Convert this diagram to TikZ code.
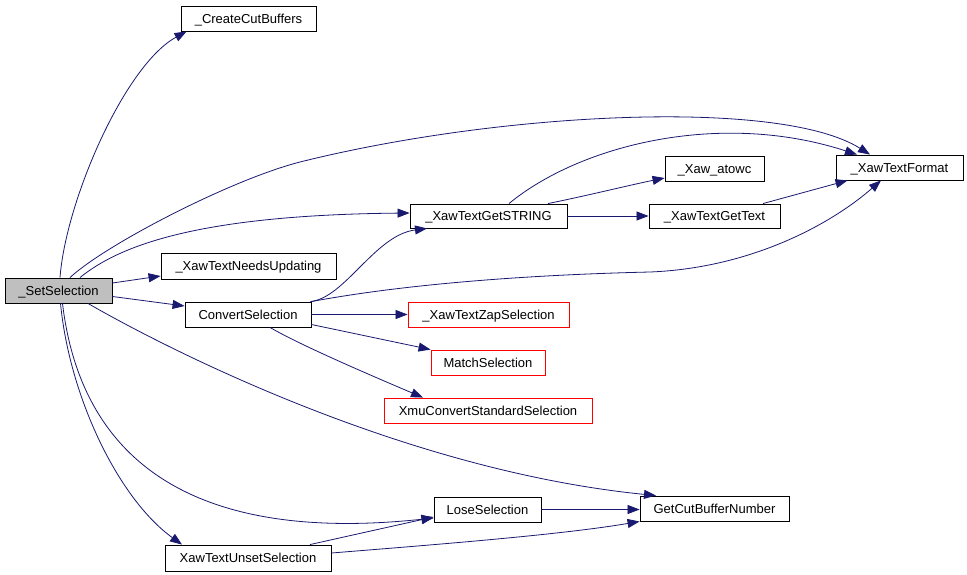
\documentclass[tikz,border=0pt]{standalone}
\usepackage{fontspec}
\setmainfont{Liberation Sans}
\usetikzlibrary{arrows.meta}
\definecolor{edgeblue}{HTML}{191970}
\definecolor{hlgray}{HTML}{BFBFBF}
\begin{document}
\begin{tikzpicture}[x=1pt,y=-1pt,
  fn/.style={draw=black,line width=0.9pt,inner sep=0pt,font=\fontsize{13}{15}\selectfont,align=center,text height=9.3pt,text depth=0pt},
  fnred/.style={fn,draw=red},
  call/.style={draw=edgeblue,line width=0.8pt,-{Triangle[length=12pt,width=9pt]}}]
\useasboundingbox[fill=white] (0,0) rectangle (967,574);
% nodes
\node[fn,fill=hlgray,minimum width=107pt,minimum height=25pt] (S) at (58.5,290.5) {\_SetSelection};
\node[fn,minimum width=135pt,minimum height=25pt] (C) at (248.5,18.5) {\_CreateCutBuffers};
\node[fn,minimum width=175pt,minimum height=26pt] (NU) at (248.5,266) {\_XawTextNeedsUpdating};
\node[fn,minimum width=126pt,minimum height=25pt] (CS) at (248,314.5) {ConvertSelection};
\node[fn,minimum width=157pt,minimum height=24pt] (G) at (488.5,216) {\_XawTextGetSTRING};
\node[fn,minimum width=99pt,minimum height=25pt] (A) at (714.5,168.5) {\_Xaw\_atowc};
\node[fn,minimum width=131pt,minimum height=24pt] (T) at (714.5,216) {\_XawTextGetText};
\node[fn,minimum width=127pt,minimum height=25pt] (F) at (899.5,167.5) {\_XawTextFormat};
\node[fnred,minimum width=161pt,minimum height=25pt] (Z) at (488.5,314.5) {\_XawTextZapSelection};
\node[fnred,minimum width=114pt,minimum height=25pt] (M) at (488,362.5) {MatchSelection};
\node[fnred,minimum width=208pt,minimum height=25pt] (X) at (488,410.5) {XmuConvertStandardSelection};
\node[fn,minimum width=107pt,minimum height=25pt] (L) at (487.5,509.5) {LoseSelection};
\node[fn,minimum width=149pt,minimum height=25pt] (GB) at (714.5,508.5) {GetCutBufferNumber};
\node[fn,minimum width=166pt,minimum height=26pt] (U) at (248,558) {XawTextUnsetSelection};
% edges from _SetSelection
\draw[call] ([xshift=1.5pt]S.north) .. controls (66,200) and (125,65) .. ([xshift=6pt]C.south west);
\draw[call] ([xshift=11.5pt]S.north) .. controls (105,245) and (230,180) .. (300,162)
   .. controls (500,112) and (780,98) .. ([xshift=-29.5pt]F.north);
\draw[call] ([xshift=21.5pt]S.north) .. controls (120,245) and (200,215) .. ([yshift=3pt]G.west);
\draw[call] ([yshift=7.5pt]S.east) -- ([yshift=-10pt]NU.west);
\draw[call] ([yshift=-6pt]S.east) -- ([yshift=8.5pt]CS.west);
\draw[call] ([xshift=29.5pt]S.south) .. controls (160,345) and (400,470) .. ([xshift=-58.5pt]GB.north);
\draw[call] ([xshift=4pt]S.south) .. controls (80,450) and (180,545) .. ([yshift=-8.5pt]L.west);
\draw[call] ([xshift=2pt]S.south) .. controls (70,400) and (120,500) .. ([xshift=-66pt]U.north);
% edges from ConvertSelection
\draw[call] ([xshift=-1pt]CS.north east) .. controls (345,298) and (375,235) .. ([xshift=-61.5pt]G.south);
\draw[call] (CS.north east) .. controls (400,285) and (520,275) .. (650,272)
   .. controls (750,268) and (830,225) .. ([xshift=-18.5pt]F.south);
\draw[call] (CS.east) -- (Z.west);
\draw[call] ([yshift=-10pt]CS.east) -- (M.north west);
\draw[call] ([xshift=22pt]CS.south) .. controls (300,345) and (370,375) .. ([xshift=-65pt]X.north);
% edges from _XawTextGetSTRING
\draw[call] ([xshift=20.5pt]G.north) .. controls (580,145) and (720,110) .. ([xshift=-42.5pt]F.north);
\draw[call] ([xshift=59.5pt]G.north) .. controls (590,195) and (630,185) .. ([yshift=-9.5pt]A.west);
\draw[call] (G.east) -- (T.west);
\draw[call] ([xshift=48.5pt]T.north) -- ([xshift=12pt]F.south west);
% bottom edges
\draw[call] (L.east) -- ([yshift=-1pt]GB.west);
\draw[call] ([xshift=62pt]U.north) -- ([yshift=-7.5pt]L.west);
\draw[call] ([yshift=5pt]U.east) .. controls (430,545) and (560,535) .. (GB.south west);
\end{tikzpicture}
\end{document}
